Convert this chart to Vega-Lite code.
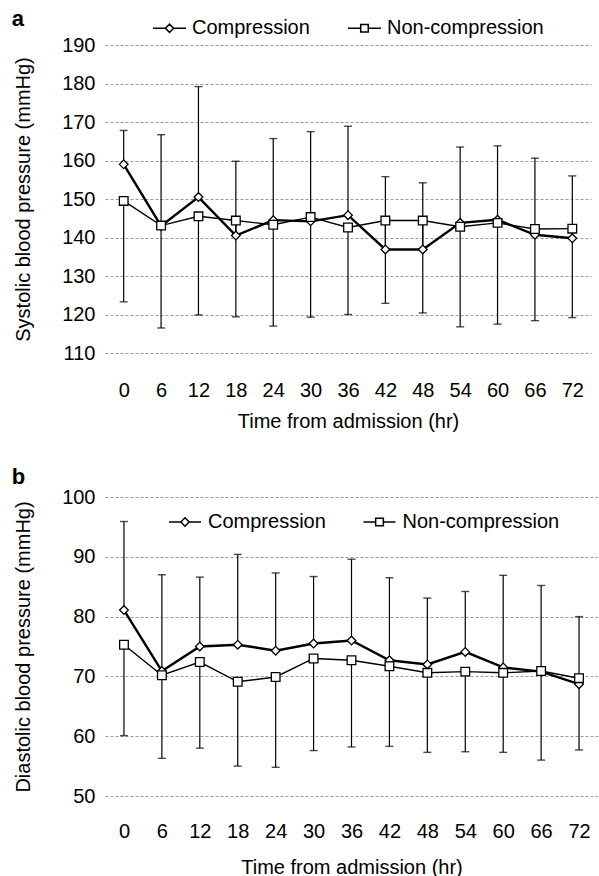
{
  "$schema": "https://vega.github.io/schema/vega-lite/v6.json",
  "background": "white",
  "padding": {"left": 11, "top": 7, "right": 0, "bottom": 0},
  "spacing": 35,
  "resolve": {"scale": {"shape": "independent"}, "legend": {"shape": "independent"}},
  "config": {
    "font": "Liberation Sans",
    "view": {"stroke": null},
    "axis": {
      "labelFont": "Liberation Sans",
      "labelFontSize": 20,
      "labelColor": "black",
      "labelOverlap": false,
      "titleFont": "Liberation Sans",
      "titleFontSize": 20,
      "titleFontWeight": "normal",
      "titleColor": "black",
      "ticks": false,
      "tickSize": 0,
      "domain": false,
      "gridColor": "#9a9a9a",
      "gridDash": [3, 2],
      "gridWidth": 1
    },
    "legend": {
      "labelFont": "Liberation Sans",
      "labelFontSize": 20,
      "labelColor": "black",
      "padding": 0
    },
    "title": {
      "font": "Liberation Sans",
      "fontSize": 22,
      "fontWeight": "bold",
      "color": "black",
      "anchor": "start",
      "frame": "bounds",
      "baseline": "alphabetic"
    }
  },
  "datasets": {
    "systolic": [
      {"hour": 0, "group": "Compression", "mean": 159.0, "bound": 167.8},
      {"hour": 6, "group": "Compression", "mean": 143.0, "bound": 166.7},
      {"hour": 12, "group": "Compression", "mean": 150.5, "bound": 179.2},
      {"hour": 18, "group": "Compression", "mean": 140.5, "bound": 159.8},
      {"hour": 24, "group": "Compression", "mean": 144.5, "bound": 165.7},
      {"hour": 30, "group": "Compression", "mean": 144.2, "bound": 167.5},
      {"hour": 36, "group": "Compression", "mean": 145.8, "bound": 168.9},
      {"hour": 42, "group": "Compression", "mean": 136.9, "bound": 155.8},
      {"hour": 48, "group": "Compression", "mean": 136.9, "bound": 154.2},
      {"hour": 54, "group": "Compression", "mean": 143.8, "bound": 163.5},
      {"hour": 60, "group": "Compression", "mean": 144.6, "bound": 163.8},
      {"hour": 66, "group": "Compression", "mean": 140.7, "bound": 160.6},
      {"hour": 72, "group": "Compression", "mean": 139.8, "bound": 156.0},
      {"hour": 0, "group": "Non-compression", "mean": 149.5, "bound": 123.3},
      {"hour": 6, "group": "Non-compression", "mean": 143.1, "bound": 116.5},
      {"hour": 12, "group": "Non-compression", "mean": 145.5, "bound": 119.9},
      {"hour": 18, "group": "Non-compression", "mean": 144.4, "bound": 119.4},
      {"hour": 24, "group": "Non-compression", "mean": 143.3, "bound": 117.0},
      {"hour": 30, "group": "Non-compression", "mean": 145.3, "bound": 119.3},
      {"hour": 36, "group": "Non-compression", "mean": 142.6, "bound": 120.0},
      {"hour": 42, "group": "Non-compression", "mean": 144.4, "bound": 122.9},
      {"hour": 48, "group": "Non-compression", "mean": 144.4, "bound": 120.4},
      {"hour": 54, "group": "Non-compression", "mean": 142.8, "bound": 116.8},
      {"hour": 60, "group": "Non-compression", "mean": 143.8, "bound": 117.5},
      {"hour": 66, "group": "Non-compression", "mean": 142.2, "bound": 118.4},
      {"hour": 72, "group": "Non-compression", "mean": 142.3, "bound": 119.2}
    ],
    "diastolic": [
      {"hour": 0, "group": "Compression", "mean": 81.1, "bound": 95.9},
      {"hour": 6, "group": "Compression", "mean": 70.9, "bound": 87.0},
      {"hour": 12, "group": "Compression", "mean": 75.0, "bound": 86.6},
      {"hour": 18, "group": "Compression", "mean": 75.3, "bound": 90.4},
      {"hour": 24, "group": "Compression", "mean": 74.3, "bound": 87.3},
      {"hour": 30, "group": "Compression", "mean": 75.5, "bound": 86.7},
      {"hour": 36, "group": "Compression", "mean": 76.0, "bound": 89.6},
      {"hour": 42, "group": "Compression", "mean": 72.7, "bound": 86.5},
      {"hour": 48, "group": "Compression", "mean": 72.0, "bound": 83.1},
      {"hour": 54, "group": "Compression", "mean": 74.1, "bound": 84.2},
      {"hour": 60, "group": "Compression", "mean": 71.5, "bound": 86.9},
      {"hour": 66, "group": "Compression", "mean": 70.8, "bound": 85.2},
      {"hour": 72, "group": "Compression", "mean": 68.7, "bound": 80.0},
      {"hour": 0, "group": "Non-compression", "mean": 75.3, "bound": 60.1},
      {"hour": 6, "group": "Non-compression", "mean": 70.2, "bound": 56.3},
      {"hour": 12, "group": "Non-compression", "mean": 72.4, "bound": 58.0},
      {"hour": 18, "group": "Non-compression", "mean": 69.1, "bound": 55.0},
      {"hour": 24, "group": "Non-compression", "mean": 69.9, "bound": 54.8},
      {"hour": 30, "group": "Non-compression", "mean": 73.0, "bound": 57.6},
      {"hour": 36, "group": "Non-compression", "mean": 72.7, "bound": 58.2},
      {"hour": 42, "group": "Non-compression", "mean": 71.7, "bound": 58.3},
      {"hour": 48, "group": "Non-compression", "mean": 70.6, "bound": 57.3},
      {"hour": 54, "group": "Non-compression", "mean": 70.8, "bound": 57.4},
      {"hour": 60, "group": "Non-compression", "mean": 70.6, "bound": 57.3},
      {"hour": 66, "group": "Non-compression", "mean": 70.9, "bound": 56.0},
      {"hour": 72, "group": "Non-compression", "mean": 69.7, "bound": 57.7}
    ]
  },
  "vconcat": [
    {
      "title": {"text": "a", "offset": -20, "dx": -2},
      "width": 486,
      "height": 308,
      "data": {"name": "systolic"},
      "resolve": {"scale": {"shape": "independent"}},
      "encoding": {
        "x": {
          "field": "hour",
          "type": "quantitative",
          "scale": {"domain": [-3, 75], "nice": false, "zero": false},
          "axis": {
            "values": [0, 6, 12, 18, 24, 30, 36, 42, 48, 54, 60, 66, 72],
            "grid": false,
            "title": "Time from admission (hr)",
            "labelPadding": 27,
            "titlePadding": 11
          }
        }
      },
      "layer": [
        {
          "mark": {"type": "rule", "color": "black", "strokeWidth": 1.2},
          "encoding": {
            "y": {
              "field": "mean",
              "type": "quantitative",
              "title": "Systolic blood pressure (mmHg)",
              "scale": {"domain": [110, 190], "nice": false, "zero": false},
              "axis": {"values": [110, 120, 130, 140, 150, 160, 170, 180, 190], "labelPadding": 10, "titlePadding": 28}
            },
            "y2": {"field": "bound"}
          }
        },
        {
          "mark": {"type": "tick", "orient": "horizontal", "size": 8, "thickness": 1.4, "color": "black"},
          "encoding": {
            "y": {
              "field": "bound",
              "type": "quantitative",
              "title": "Systolic blood pressure (mmHg)",
              "axis": {"values": [110, 120, 130, 140, 150, 160, 170, 180, 190], "labelPadding": 10, "titlePadding": 28}
            }
          }
        },
        {
          "transform": [{"filter": "datum.group === 'Compression'"}],
          "mark": {"type": "line", "color": "black", "strokeWidth": 2.4},
          "encoding": {
            "y": {
              "field": "mean",
              "type": "quantitative",
              "title": "Systolic blood pressure (mmHg)",
              "axis": {"values": [110, 120, 130, 140, 150, 160, 170, 180, 190], "labelPadding": 10, "titlePadding": 28}
            }
          }
        },
        {
          "transform": [{"filter": "datum.group === 'Non-compression'"}],
          "mark": {"type": "line", "color": "black", "strokeWidth": 1.4},
          "encoding": {
            "y": {
              "field": "mean",
              "type": "quantitative",
              "title": "Systolic blood pressure (mmHg)",
              "axis": {"values": [110, 120, 130, 140, 150, 160, 170, 180, 190], "labelPadding": 10, "titlePadding": 28}
            }
          }
        },
        {
          "mark": {"type": "point", "filled": true, "fill": "white", "stroke": "black", "strokeWidth": 1.3, "size": 75, "opacity": 1},
          "encoding": {
            "y": {
              "field": "mean",
              "type": "quantitative",
              "title": "Systolic blood pressure (mmHg)",
              "axis": {"values": [110, 120, 130, 140, 150, 160, 170, 180, 190], "labelPadding": 10, "titlePadding": 28}
            },
            "shape": {
              "field": "group",
              "type": "nominal",
              "scale": {"domain": ["Compression", "Non-compression"], "range": ["diamond", "square"]},
              "legend": null
            }
          }
        },
        {
          "transform": [{"filter": "datum.hour < 0"}],
          "mark": {"type": "point", "filled": true, "fill": "white", "stroke": "black", "strokeWidth": 1.2, "opacity": 1},
          "encoding": {
            "y": {
              "field": "mean",
              "type": "quantitative",
              "title": "Systolic blood pressure (mmHg)",
              "axis": {"values": [110, 120, 130, 140, 150, 160, 170, 180, 190], "labelPadding": 10, "titlePadding": 28}
            },
            "shape": {
              "field": "group",
              "type": "nominal",
              "scale": {
                "domain": ["Compression", "Non-compression"],
                "range": ["M-1,0L-0.25,0M0.25,0L1,0M0,-0.25L0.25,0L0,0.25L-0.25,0Z", "M-1,0L-0.23,0M0.23,0L1,0M-0.23,-0.23L0.23,-0.23L0.23,0.23L-0.23,0.23Z"]
              },
              "legend": {
                "orient": "none",
                "legendX": 47,
                "legendY": -34.5,
                "direction": "horizontal",
                "title": null,
                "symbolSize": 1089,
                "labelOffset": 5,
                "columnPadding": 35
              }
            }
          }
        }
      ]
    },
    {
      "title": {"text": "b", "offset": -2, "dx": -2},
      "width": 493,
      "height": 299,
      "data": {"name": "diastolic"},
      "resolve": {"scale": {"shape": "independent"}},
      "encoding": {
        "x": {
          "field": "hour",
          "type": "quantitative",
          "scale": {"domain": [-3, 75], "nice": false, "zero": false},
          "axis": {
            "values": [0, 6, 12, 18, 24, 30, 36, 42, 48, 54, 60, 66, 72],
            "grid": false,
            "title": "Time from admission (hr)",
            "labelPadding": 25,
            "titlePadding": 16
          }
        }
      },
      "layer": [
        {
          "mark": {"type": "rule", "color": "black", "strokeWidth": 1.2},
          "encoding": {
            "y": {
              "field": "mean",
              "type": "quantitative",
              "title": "Diastolic blood pressure (mmHg)",
              "scale": {"domain": [50, 100], "nice": false, "zero": false},
              "axis": {"values": [50, 60, 70, 80, 90, 100], "labelPadding": 10, "titlePadding": 28}
            },
            "y2": {"field": "bound"}
          }
        },
        {
          "mark": {"type": "tick", "orient": "horizontal", "size": 8, "thickness": 1.4, "color": "black"},
          "encoding": {
            "y": {
              "field": "bound",
              "type": "quantitative",
              "title": "Diastolic blood pressure (mmHg)",
              "axis": {"values": [50, 60, 70, 80, 90, 100], "labelPadding": 10, "titlePadding": 28}
            }
          }
        },
        {
          "transform": [{"filter": "datum.group === 'Compression'"}],
          "mark": {"type": "line", "color": "black", "strokeWidth": 2.4},
          "encoding": {
            "y": {
              "field": "mean",
              "type": "quantitative",
              "title": "Diastolic blood pressure (mmHg)",
              "axis": {"values": [50, 60, 70, 80, 90, 100], "labelPadding": 10, "titlePadding": 28}
            }
          }
        },
        {
          "transform": [{"filter": "datum.group === 'Non-compression'"}],
          "mark": {"type": "line", "color": "black", "strokeWidth": 1.4},
          "encoding": {
            "y": {
              "field": "mean",
              "type": "quantitative",
              "title": "Diastolic blood pressure (mmHg)",
              "axis": {"values": [50, 60, 70, 80, 90, 100], "labelPadding": 10, "titlePadding": 28}
            }
          }
        },
        {
          "mark": {"type": "point", "filled": true, "fill": "white", "stroke": "black", "strokeWidth": 1.3, "size": 75, "opacity": 1},
          "encoding": {
            "y": {
              "field": "mean",
              "type": "quantitative",
              "title": "Diastolic blood pressure (mmHg)",
              "axis": {"values": [50, 60, 70, 80, 90, 100], "labelPadding": 10, "titlePadding": 28}
            },
            "shape": {
              "field": "group",
              "type": "nominal",
              "scale": {"domain": ["Compression", "Non-compression"], "range": ["diamond", "square"]},
              "legend": null
            }
          }
        },
        {
          "transform": [{"filter": "datum.hour < 0"}],
          "mark": {"type": "point", "filled": true, "fill": "white", "stroke": "black", "strokeWidth": 1.2, "opacity": 1},
          "encoding": {
            "y": {
              "field": "mean",
              "type": "quantitative",
              "title": "Diastolic blood pressure (mmHg)",
              "axis": {"values": [50, 60, 70, 80, 90, 100], "labelPadding": 10, "titlePadding": 28}
            },
            "shape": {
              "field": "group",
              "type": "nominal",
              "scale": {
                "domain": ["Compression", "Non-compression"],
                "range": ["M-1,0L-0.26,0M0.26,0L1,0M0,-0.26L0.26,0L0,0.26L-0.26,0Z", "M-1,0L-0.24,0M0.24,0L1,0M-0.24,-0.24L0.24,-0.24L0.24,0.24L-0.24,0.24Z"]
              },
              "legend": {
                "orient": "none",
                "legendX": 63,
                "legendY": 8,
                "direction": "horizontal",
                "title": null,
                "symbolSize": 1024,
                "labelOffset": 6,
                "columnPadding": 34.5
              }
            }
          }
        }
      ]
    }
  ]
}
